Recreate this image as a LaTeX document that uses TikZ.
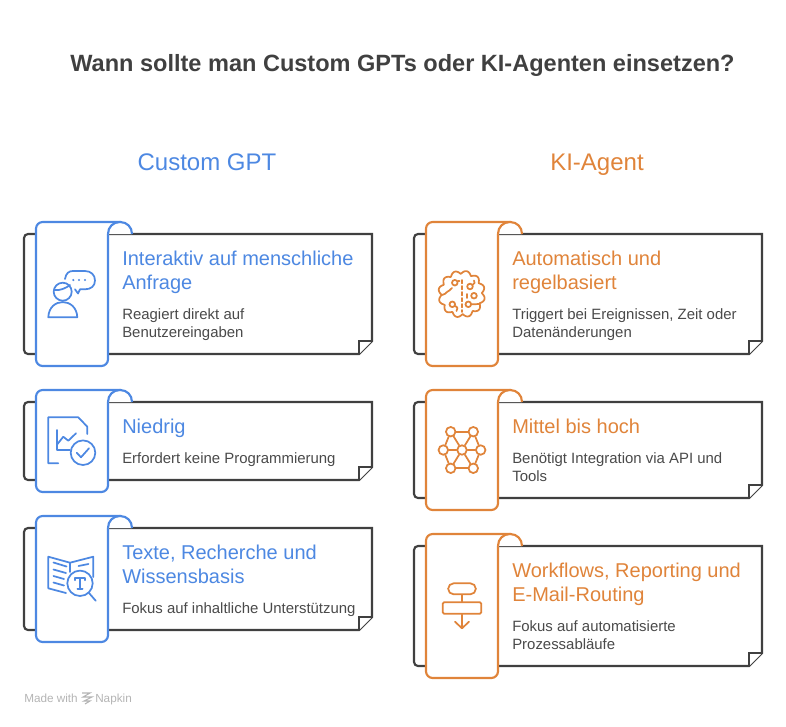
\documentclass[tikz,border=0pt]{standalone}
\usepackage{fontspec}
\setmainfont{Liberation Sans}
\usetikzlibrary{positioning,calc}
\definecolor{gptblue}{HTML}{4D88E2}
\definecolor{agentorange}{HTML}{E0843A}
\definecolor{framegray}{HTML}{404040}
\definecolor{bodygray}{HTML}{4A4A4A}
\definecolor{footgray}{HTML}{B4B4B4}
% frame with folded corner, then ribbon on top: x, top, bottom, colour
\newcommand{\ribboncard}[4]{
  \draw[frameline] ({#1+12},{#2+12}) [rounded corners=3pt] -- (#1,{#2+12}) -- (#1,{#3-12}) [sharp corners] -- ({#1+335},{#3-12}) -- ({#1+348},{#3-25}) -- ({#1+348},{#2+12}) -- cycle;
  \draw[frameline] ({#1+335},{#3-12}) -- ({#1+335},{#3-25}) -- ({#1+348},{#3-25});
  \draw[line width=1.6pt,draw=#4,fill=white,rounded corners=5pt] ({#1+84},{#2+12}) -- ({#1+84},#3) -- ({#1+12},#3) -- ({#1+12},#2) -- ({#1+97},#2);
  \draw[line width=1.6pt,draw=#4,fill=white,line join=round] ({#1+84},{#2+12}) .. controls ({#1+84},{#2+5}) and ({#1+89},#2) .. ({#1+96},#2) .. controls ({#1+103},#2) and ({#1+108},{#2+5}) .. ({#1+108},{#2+12});
}
\begin{document}
\begin{tikzpicture}
[x=0.75pt,y=-0.75pt,
frameline/.style={line width=1.6pt,draw=framegray,fill=white},
titlelabel/.style={anchor=base,inner sep=0pt,text=framegray,font=\fontsize{17.65}{22}\selectfont\bfseries},
columnlabel/.style={anchor=base,inner sep=0pt,font=\fontsize{18}{22}\selectfont},
headlabel/.style={anchor=north west,inner sep=0pt,align=left,font=\fontsize{15}{18}\selectfont},
bodylabel/.style={anchor=north west,inner sep=0pt,align=left,text=bodygray,font=\fontsize{11.2}{13.5}\selectfont},
footlabel/.style={anchor=base west,inner sep=0pt,text=footgray,font=\fontsize{8.8}{10}\selectfont},
icon/.style={line width=1.3pt,line cap=round,line join=round},
netdot/.style={circle,draw=agentorange,fill=white,line width=1.3pt,inner sep=0pt,minimum size=9.5*0.75pt}]

\useasboundingbox (0,0) rectangle (786,726);

\node[titlelabel] (title) at (402.5,71) {Wann sollte man Custom GPTs oder KI-Agenten einsetzen?};
\node[columnlabel,text=gptblue] (gpt) at (207,170) {Custom GPT};
\node[columnlabel,text=agentorange] (agent) at (597,170) {KI-Agent};

\ribboncard{24}{222}{366}{gptblue}
\ribboncard{24}{390}{492}{gptblue}
\ribboncard{24}{516}{642}{gptblue}
\ribboncard{414}{222}{366}{agentorange}
\ribboncard{414}{390}{510}{agentorange}
\ribboncard{414}{534}{678}{agentorange}

\node[headlabel,text=gptblue] (head1) at (122,250.5) {Interaktiv auf menschliche\\Anfrage};
\node[bodylabel] (body1) at (122,308) {Reagiert direkt auf\\Benutzereingaben};
\node[headlabel,text=gptblue] (head2) at (122,418.5) {Niedrig};
\node[bodylabel] (body2) at (122,452) {Erfordert keine Programmierung};
\node[headlabel,text=gptblue] (head3) at (122,544.5) {Texte, Recherche und\\Wissensbasis};
\node[bodylabel] (body3) at (122,602.5) {Fokus auf inhaltliche Unterstützung};

\node[headlabel,text=agentorange] (head4) at (512,250.5) {Automatisch und\\regelbasiert};
\node[bodylabel] (body4) at (512,308) {Triggert bei Ereignissen, Zeit oder\\Datenänderungen};
\node[headlabel,text=agentorange] (head5) at (512,418.5) {Mittel bis hoch};
\node[bodylabel] (body5) at (512,452) {Benötigt Integration via API und\\Tools};
\node[headlabel,text=agentorange] (head6) at (512,562.5) {Workflows, Reporting und\\E-Mail-Routing};
\node[bodylabel] (body6) at (512,620) {Fokus auf automatisierte\\Prozessabläufe};

% person with speech bubble
\begin{scope}[icon,draw=gptblue]
\draw (62.7,291.7) circle[radius=9];
\draw (54,290) .. controls (60,291) and (66,288) .. (70,285);
\draw (48.3,317.3) .. controls (49,297) and (76.5,297) .. (77.3,317.3) -- cycle;
\draw (65,279) .. controls (66,273) and (69,271) .. (73,271) -- (85,271) .. controls (91,271) and (95,275) .. (95,280.5) .. controls (95,286) and (91,289.3) .. (85,289.3) -- (80,289.3) -- (78,293.5) -- (75,289.3);
\fill[gptblue] (73.3,280) circle[radius=1.2] (79,280) circle[radius=1.2] (85,280) circle[radius=1.2];
\end{scope}

% document with chart and check
\begin{scope}[icon,draw=gptblue]
\draw (58.3,463.3) -- (48.3,463.3) -- (48.3,417.3) -- (78.3,417.3) -- (87.3,426.7) -- (87.3,434);
\draw (56.7,430) -- (56.7,450) -- (70,450);
\draw (56.7,445) -- (63.3,436.7) -- (68.3,440.7) -- (76,433.3);
\draw (83,452.7) circle[radius=12.3];
\draw (76.7,452.7) -- (81,457.3) -- (89,448.3);
\end{scope}

% open book with magnifier
\begin{scope}[icon,draw=gptblue]
\draw (66,593) -- (48.3,588.3) -- (48.3,556.7) -- (70,562.7) -- (93.3,556.7) -- (93.3,577);
\draw (70,562.7) -- (70,572);
\draw (53.5,562.5) -- (66.5,566.5);
\draw (53.5,569.5) -- (66,573);
\draw (53.5,576) -- (64,579);
\draw (53.5,582.5) -- (64,585.5);
\draw (78.5,566) -- (88.5,564);
\draw (80,583.3) circle[radius=12.7];
\draw (89,593) -- (95.7,600.7);
\draw[line width=1.5pt] (75,580) -- (75,578.3) -- (85,578.3) -- (85,580) (80,578.3) -- (80,589) (77.5,589) -- (82.5,589);
\end{scope}

% brain with circuit marks
\begin{scope}[icon,draw=agentorange]
\draw plot[smooth cycle,samples=120,domain=0:357] ({461.7+(20+3.4*abs(sin(6*\x+15)))*cos(\x)},{294+(20+3.4*abs(sin(6*\x+15)))*sin(\x)});
\draw[dash pattern=on 2.5pt off 2pt] (461.7,280) -- (461.7,312);
\draw (454.8,282.7) circle[radius=2.8];
\draw (458,281) -- (459.5,281);
\draw (452,288) .. controls (451,291) and (448,290) .. (447,292) .. controls (446,294) and (444,294) .. (442,295);
\draw (470,286.5) circle[radius=2.8];
\draw (472.5,285) .. controls (475,284) and (475,282) .. (474,280.5);
\draw (474,295.7) circle[radius=2.8];
\draw (468.3,304.3) circle[radius=2.8];
\draw (471.5,304.3) -- (480,304);
\draw (467,294) -- (467,298);
\draw (452.3,304.3) circle[radius=2.8];
\draw (455,306) .. controls (458,307) and (458,309) .. (456.5,311);
\end{scope}

% hexagon network
\node[netdot] (n1) at (450.7,431.7) {};
\node[netdot] (n2) at (473.3,431.7) {};
\node[netdot] (n3) at (443.3,450) {};
\node[netdot] (n4) at (462,450) {};
\node[netdot] (n5) at (480.7,450) {};
\node[netdot] (n6) at (450.7,468.3) {};
\node[netdot] (n7) at (473.3,468.3) {};
\begin{scope}[icon,draw=agentorange]
\draw (n1) -- (n2);
\draw (n2) -- (n5);
\draw (n5) -- (n7);
\draw (n7) -- (n6);
\draw (n6) -- (n3);
\draw (n3) -- (n1);
\draw (n3) -- (n4);
\draw (n4) -- (n5);
\draw (n1) -- (n4);
\draw (n4) -- (n7);
\draw (n2) -- (n4);
\draw (n4) -- (n6);
\end{scope}

% flow chart
\node[draw=agentorange,line width=1.3pt,rounded corners=5.5*0.75pt,minimum width=27.7*0.75pt,minimum height=11*0.75pt,inner sep=0pt] (pill) at (462,588.8) {};
\node[draw=agentorange,line width=1.3pt,rounded corners=1pt,minimum width=38.6*0.75pt,minimum height=11.4*0.75pt,inner sep=0pt] (bar) at (462,608) {};
\coordinate (tip) at (462,628.3);
\begin{scope}[icon,draw=agentorange]
\draw (pill) -- (bar);
\draw (bar) -- (tip);
\draw (455,621.7) -- (tip) -- (469,621.7);
\end{scope}

% footer
\node[footlabel] (made) at (24,702.5) {Made with};
\node[footlabel] (napkin) at (95,702.5) {Napkin};
\draw[footgray,line width=0.8pt] (82,693) -- (90,693) -- (83,697) -- (92,697) -- (84,701) -- (90,701) -- (85,704);
\end{tikzpicture}
\end{document}
